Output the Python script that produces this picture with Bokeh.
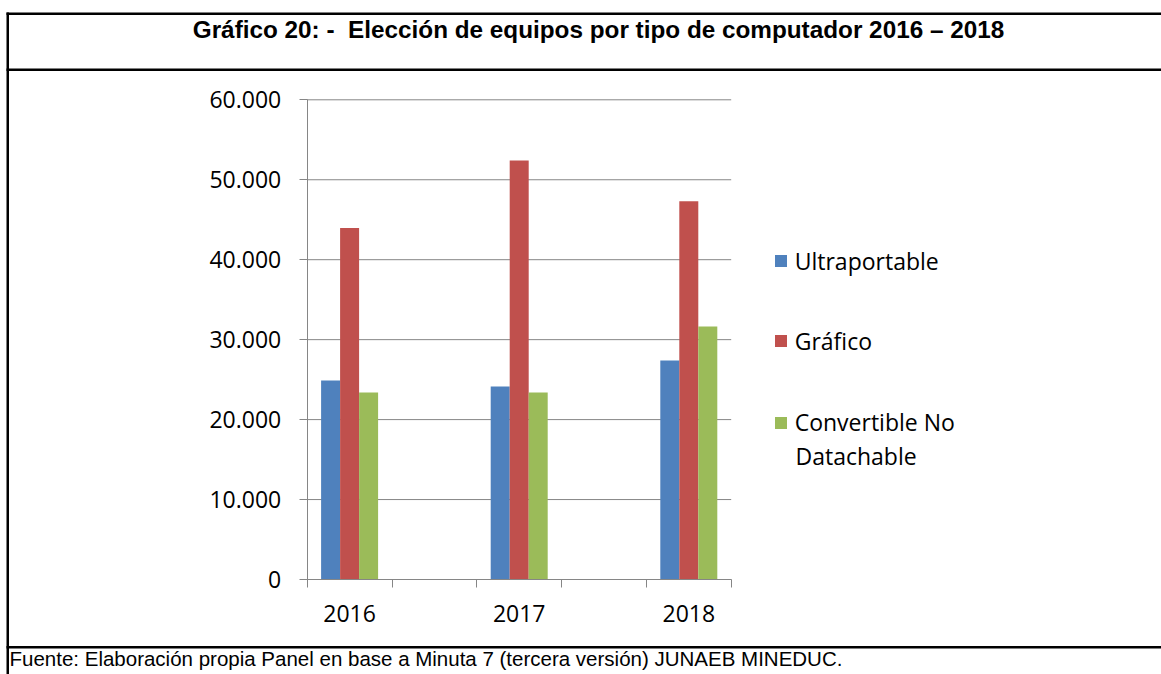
from bokeh.plotting import figure
from bokeh.models import (Range1d, FixedTicker, Legend, LegendItem, Label, BoxAnnotation,
                          LinearAxis)
from bokeh.embed import file_html
from bokeh.resources import INLINE

# ---- data ----
years = ["2016", "2017", "2018"]
ultraportable = [24900, 24150, 27400]
grafico = [43950, 52400, 47300]
convertible = [23400, 23400, 31650]
series_names = ["Ultraportable", "Gráfico", "Convertible No Datachable"]
colors = ["#4F81BD", "#C0504D", "#9BBB59"]
y_ticks = [0, 10000, 20000, 30000, 40000, 50000, 60000]
y_tick_labels = ["0", "10.000", "20.000", "30.000", "40.000", "50.000", "60.000"]
title_text = "Gráfico 20: -\u00a0 Elección de equipos por tipo de computador 2016 – 2018"
source_text = "Fuente: Elaboración propia Panel en base a Minuta 7 (tercera versión) JUNAEB MINEDUC."

W, H = 1161, 674
AX_FONT = "Open Sans"
FS = "23px"
GRID = "#868686"

# plot area in page pixels
PL, PR, PT, PB = 306.7, 730.7, 99.3, 579.0
n_slots = 2 * len(years) - 1          # Excel gap categories between years
pos = [2 * i for i in range(len(years))]
x0, x1 = -0.5, n_slots - 0.5
y0, y1 = 0, max(y_ticks)
ux = (PR - PL) / (x1 - x0)            # px per x unit
uy = (PB - PT) / (y1 - y0)            # px per y unit
bw = 19.0 / ux

p = figure(width=W, height=H, min_border=0,
           x_range=Range1d(x0 - PL / ux, x1 + (W - PR) / ux),
           y_range=Range1d(y0 - (H - PB) / uy, y1 + PT / uy),
           x_axis_location=None, y_axis_location=None,
           output_backend="svg", toolbar_location=None, tools="")
p.outline_line_color = None
p.grid.visible = False
p.background_fill_color = "white"
p.border_fill_color = "white"

# gridlines across the plot area only
p.segment(x0=[x0] * len(y_ticks), x1=[x1] * len(y_ticks), y0=y_ticks, y1=y_ticks,
          line_color=GRID, line_width=1)

offsets = [-bw, 0, bw]
renderers = []
for vals, off, col in zip([ultraportable, grafico, convertible], offsets, colors):
    r = p.vbar(x=[x + off for x in pos], top=vals, width=bw, bottom=0,
               fill_color=col, line_color=None)
    renderers.append(r)

# y axis
ya = LinearAxis(fixed_location=x0, bounds=(y0, y1))
ya.ticker = FixedTicker(ticks=y_ticks)
ya.major_label_overrides = {t: l for t, l in zip(y_ticks, y_tick_labels)}
ya.axis_line_color = GRID
ya.major_tick_line_color = GRID
ya.major_tick_out = 8
ya.major_tick_in = 0
ya.minor_tick_line_color = None
ya.major_label_standoff = 18
ya.major_label_text_font = AX_FONT
ya.major_label_text_font_size = FS
ya.major_label_text_color = "black"
p.add_layout(ya, "left")

# x axis
xa = LinearAxis(fixed_location=y0, bounds=(x0, x1))
xa.ticker = FixedTicker(ticks=pos, minor_ticks=[i - 0.5 for i in range(n_slots + 1)])
xa.major_label_overrides = {t: y for t, y in zip(pos, years)}
xa.axis_line_color = GRID
xa.major_tick_line_color = None
xa.major_tick_out = 0
xa.major_tick_in = 0
xa.minor_tick_line_color = GRID
xa.minor_tick_out = 8
xa.minor_tick_in = 0
xa.major_label_standoff = 17
xa.major_label_text_font = AX_FONT
xa.major_label_text_font_size = FS
xa.major_label_text_color = "black"
p.add_layout(xa, "below")

# legend: one per entry for exact placement (screen units, y up from bottom)
leg_labels = ["Ultraportable", "Gráfico", "Convertible No"]
leg_y = [397.5, 317.5, 236]
for r, lab, ly in zip(renderers, leg_labels, leg_y):
    lg = Legend(items=[LegendItem(label=lab, renderers=[r])], location=(772.7, ly),
                glyph_width=15, glyph_height=15, label_standoff=7, label_height=15,
                label_text_font=AX_FONT, label_text_font_size=FS,
                label_text_color="black", padding=0, margin=0, spacing=0,
                border_line_color=None, background_fill_alpha=0)
    p.add_layout(lg)
p.add_layout(Label(x=795, y=H - 455, x_units="screen", y_units="screen", text="Datachable",
                   text_font=AX_FONT, text_font_size=FS, text_baseline="middle",
                   text_color="black"))

# box borders
def bar(l, r, top_px, bottom_px):
    p.add_layout(BoxAnnotation(left=l, right=r, top=H - top_px, bottom=H - bottom_px,
                               left_units="screen", right_units="screen",
                               bottom_units="screen", top_units="screen",
                               fill_color="black", fill_alpha=1, line_color=None,
                               line_alpha=0))

bar(6, W, 12, 14.5)      # top border
bar(6, W, 68, 70.5)      # under title
bar(6, W, 645.5, 648)    # above source
bar(6, 8.5, 12, H)       # left border

p.add_layout(Label(x=598, y=H - 28.5, x_units="screen", y_units="screen", text=title_text,
                   text_font="Liberation Sans", text_font_style="bold",
                   text_font_size="24.3px", text_align="center", text_baseline="middle",
                   text_color="black"))
p.add_layout(Label(x=9, y=H - 658, x_units="screen", y_units="screen", text=source_text,
                   text_font="Liberation Sans", text_font_size="20.5px",
                   text_align="left", text_baseline="middle", text_color="black"))

open("out.html", "w").write(file_html(p, INLINE))
